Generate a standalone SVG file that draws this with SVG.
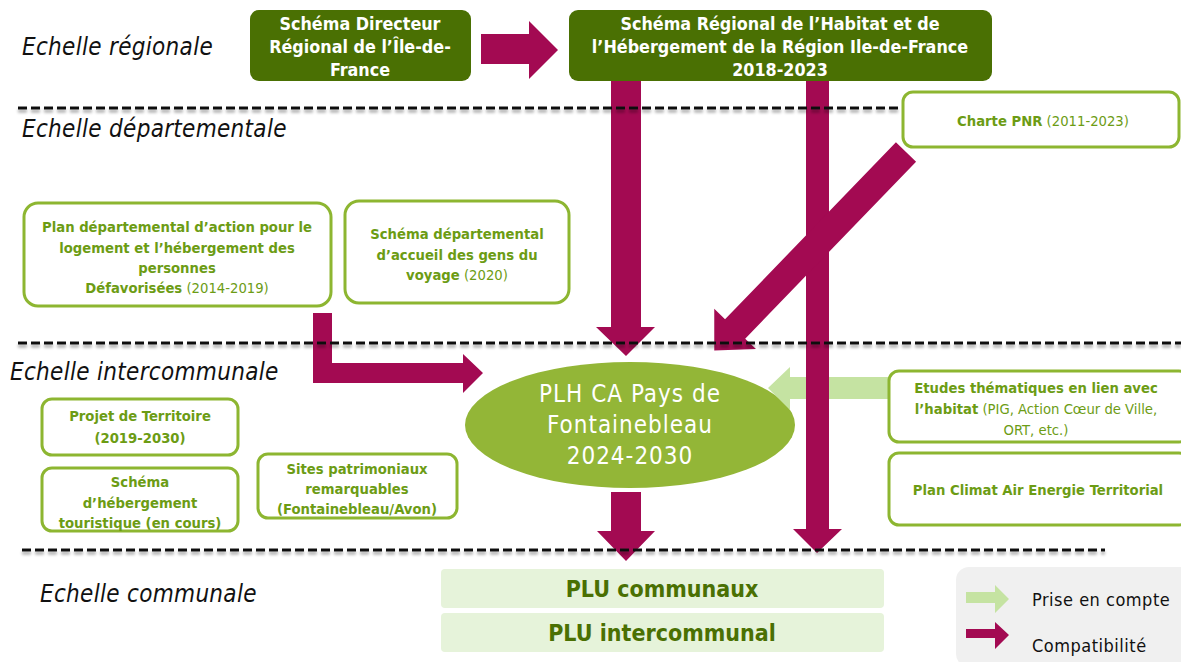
<svg xmlns="http://www.w3.org/2000/svg" width="1181" height="662" viewBox="0 0 1181 662">
<defs>
<filter id="sh" x="-5%" y="-200%" width="110%" height="500%">
<feGaussianBlur in="SourceAlpha" stdDeviation="1.5"/>
<feOffset dy="3" result="b"/>
<feComponentTransfer><feFuncA type="linear" slope="0.35"/></feComponentTransfer>
<feMerge><feMergeNode/><feMergeNode in="SourceGraphic"/></feMerge>
</filter>
<style>
text{font-family:"DejaVu Sans Condensed","DejaVu Sans","Liberation Sans",sans-serif;}
.scale{font-size:24px;font-style:italic;fill:#111;letter-spacing:0.3px;}
.dash{stroke:#111;stroke-width:3;stroke-dasharray:9 4;fill:none;}
.dark{fill:#4a7003;}
.wt{fill:#fff;font-weight:bold;font-size:17.8px;text-anchor:middle;}
.box{fill:#fff;stroke:#8db631;stroke-width:3;}
.gt{fill:#6c9c14;font-size:14.7px;text-anchor:middle;}
.b{font-weight:bold;}
.mag{fill:#a30a52;}
.lg{fill:#c5e3a2;}
.plu{fill:#e6f3da;}
.pt{fill:#4a7003;font-size:23px;font-weight:bold;text-anchor:middle;}
.leg{fill:#111;font-size:18px;letter-spacing:0.5px;}
.et{fill:#fff;font-size:24px;text-anchor:middle;letter-spacing:1px;}
</style>
</defs>
<rect width="1181" height="662" fill="#fff"/>

<g id="labels">
<text class="scale" x="22" y="55">Echelle régionale</text>
<text class="scale" x="22" y="137">Echelle départementale</text>
<text class="scale" x="10" y="380">Echelle intercommunale</text>
<text class="scale" x="40" y="602">Echelle communale</text>
</g>

<g id="plh">
<ellipse cx="630" cy="425" rx="165" ry="63" fill="#93b637"/>
<text class="et" x="630" y="402">PLH CA Pays de</text>
<text class="et" x="630" y="433">Fontainebleau</text>
<text class="et" x="630" y="464">2024-2030</text>
</g>

<g id="connectors">
<polygon class="lg" points="888,377 790,377 790,367 768,388 790,410 790,399 888,399"/>
<polygon class="mag" points="481,34 529,34 529,21 558,50 529,79 529,64 481,64"/>
<polygon class="mag" points="611,80 641,80 641,327 655,327 626,356 596,327 611,327"/>
<polygon class="mag" points="806,80 829,80 829,529 842,529 817,553 793,529 806,529"/>
<polygon class="mag" points="611,492 641,492 641,531 655,531 626,561 597,531 611,531"/>
<polygon class="mag" points="313,313 332,313 332,363 463,363 463,354 483,373 463,393 463,383 313,383"/>
<polygon class="mag" transform="translate(906,152) rotate(44)" points="-14,0 14,0 14,246 29,246 0,276 -29,246 -14,246"/>
</g>

<g id="separators" filter="url(#sh)">
<line class="dash" x1="18" y1="108" x2="902" y2="108"/>
<line class="dash" x1="18" y1="343" x2="1181" y2="343"/>
<line class="dash" x1="22" y1="550" x2="1105" y2="550"/>
</g>

<g id="sdrif">
<rect class="dark" x="250" y="10" width="221" height="71" rx="9"/>
<text class="wt" x="360" y="30">Schéma Directeur</text>
<text class="wt" x="360" y="53">Régional de l’Île-de-</text>
<text class="wt" x="360" y="76">France</text>
</g>

<g id="srhh">
<rect class="dark" x="569" y="10" width="423" height="71" rx="9"/>
<text class="wt" x="780" y="30">Schéma Régional de l’Habitat et de</text>
<text class="wt" x="780" y="53">l’Hébergement de la Région Ile-de-France</text>
<text class="wt" x="780" y="76">2018-2023</text>
</g>

<g id="charte-pnr">
<rect class="box" x="903" y="92" width="276" height="55" rx="10"/>
<text class="gt" x="1043" y="126"><tspan class="b">Charte PNR</tspan> (2011-2023)</text>
</g>

<g id="pdalhpd">
<rect class="box" x="24" y="203" width="307" height="103" rx="14"/>
<text class="gt b" x="177" y="232">Plan départemental d’action pour le</text>
<text class="gt b" x="177" y="253">logement et l’hébergement des</text>
<text class="gt b" x="177" y="273">personnes</text>
<text class="gt" x="177" y="293"><tspan class="b">Défavorisées</tspan>  (2014-2019)</text>
</g>

<g id="sdagv">
<rect class="box" x="345" y="201" width="224" height="102" rx="14"/>
<text class="gt b" x="457" y="239">Schéma départemental</text>
<text class="gt b" x="457" y="260">d’accueil des gens du</text>
<text class="gt" x="457" y="280"><tspan class="b">voyage</tspan> (2020)</text>
</g>

<g id="projet-territoire">
<rect class="box" x="42" y="399" width="196" height="56" rx="10"/>
<text class="gt b" x="140" y="421">Projet de Territoire</text>
<text class="gt b" x="140" y="443">(2019-2030)</text>
</g>

<g id="schema-hebergement">
<rect class="box" x="42" y="468" width="196" height="63" rx="10"/>
<text class="gt b" x="140" y="487">Schéma</text>
<text class="gt b" x="140" y="508">d’hébergement</text>
<text class="gt b" x="140" y="528">touristique (en cours)</text>
</g>

<g id="sites-patrimoniaux">
<rect class="box" x="258" y="454" width="199" height="64" rx="10"/>
<text class="gt b" x="357" y="474">Sites patrimoniaux</text>
<text class="gt b" x="357" y="494">remarquables</text>
<text class="gt b" x="357" y="514">(Fontainebleau/Avon)</text>
</g>

<g id="etudes">
<rect class="box" x="889" y="371" width="300" height="71" rx="10"/>
<text class="gt b" x="1036" y="393">Etudes thématiques en lien avec</text>
<text class="gt" x="1036" y="414"><tspan class="b">l’habitat</tspan> (PIG, Action Cœur de Ville,</text>
<text class="gt" x="1036" y="435">ORT, etc.)</text>
</g>

<g id="pcaet">
<rect class="box" x="889" y="453" width="300" height="72" rx="10"/>
<text class="gt b" x="1038" y="495">Plan Climat Air Energie Territorial</text>
</g>

<g id="plu-communaux">
<rect class="plu" x="441" y="569" width="443" height="39" rx="4"/>
<text class="pt" x="662" y="597">PLU communaux</text>
</g>

<g id="plu-intercommunal">
<rect class="plu" x="441" y="613" width="443" height="39" rx="4"/>
<text class="pt" x="662" y="641">PLU intercommunal</text>
</g>

<g id="legend">
<rect x="956" y="567" width="240" height="100" rx="13" fill="#f0f0f0"/>
<polygon class="lg" points="966,592 995,592 995,585 1009,599 995,613 995,603 966,603"/>
<text class="leg" x="1032" y="606">Prise en compte</text>
<polygon class="mag" points="966,629 995,629 995,622 1009,635 995,649 995,638 966,638"/>
<text class="leg" x="1032" y="652">Compatibilité</text>
</g>
</svg>
